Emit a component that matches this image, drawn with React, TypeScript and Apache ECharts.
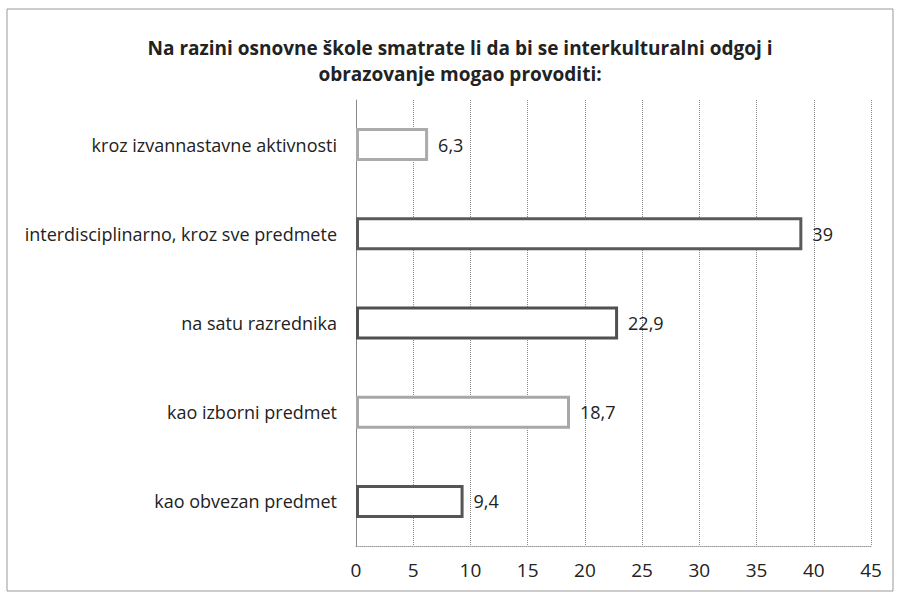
import React, { useEffect, useRef } from "react";
import * as echarts from "echarts";

const titleText = "Na razini osnovne škole smatrate li da bi se interkulturalni odgoj i\nobrazovanje mogao provoditi:";
const categories = [
  "kao obvezan predmet",
  "kao izborni predmet",
  "na satu razrednika",
  "interdisciplinarno, kroz sve predmete",
  "kroz izvannastavne aktivnosti",
];
const values = [9.4, 18.7, 22.9, 39, 6.3];
const borderColors = ["#555555", "#a8a8a8", "#505050", "#5a5a5a", "#ababab"];

export default function App() {
  const ref = useRef<HTMLDivElement>(null);
  useEffect(() => {
    const chart = echarts.init(ref.current!, undefined, { renderer: "svg" });
    chart.setOption({
      animation: false,
      backgroundColor: "#ffffff",
      title: {
        text: titleText,
        left: 455,
        textAlign: "center",
        top: 30,
        textStyle: {
          fontFamily: "Open Sans",
          fontWeight: "bold",
          fontSize: 19,
          lineHeight: 26,
          color: "#222",
        },
      },
      graphic: [
        {
          type: "rect",
          shape: { x: 7, y: 9, width: 886, height: 582 },
          style: { fill: "none", stroke: "#999", lineWidth: 1 },
          silent: true,
        },
      ],
      grid: { left: 356, right: 27, top: 100, bottom: 46, containLabel: false },
      xAxis: {
        type: "value",
        min: 0,
        max: 45,
        interval: 5,
        axisLine: { show: true, lineStyle: { color: "#999", type: "dotted", width: 1 } },
        axisTick: { show: false },
        splitLine: { show: true, lineStyle: { color: "#888", type: "dotted", width: 1 } },
        axisLabel: {
          fontFamily: "Open Sans",
          fontSize: 19,
          color: "#222",
          margin: 14,
        },
      },
      yAxis: {
        type: "category",
        data: categories,
        axisLine: { show: true, lineStyle: { color: "#888", width: 1 } },
        axisTick: { show: false },
        axisLabel: {
          fontFamily: "Open Sans",
          fontSize: 18,
          color: "#222",
          margin: 19,
        },
      },
      series: [
        {
          type: "bar",
          barWidth: 33,
          data: values.map((v, i) => ({
            value: v,
            itemStyle: { color: "#ffffff", borderColor: borderColors[i], borderWidth: 3 },
          })),
          label: {
            show: true,
            position: "right",
            distance: 10,
            fontFamily: "Open Sans",
            fontSize: 18,
            color: "#222",
            formatter: (p: any) => String(p.value).replace(".", ","),
          },
        },
      ],
    });
    return () => chart.dispose();
  }, []);
  return (
    <div
      ref={ref}
      style={{ position: "fixed", left: 0, top: 0, width: 898, height: 592 }}
    />
  );
}
